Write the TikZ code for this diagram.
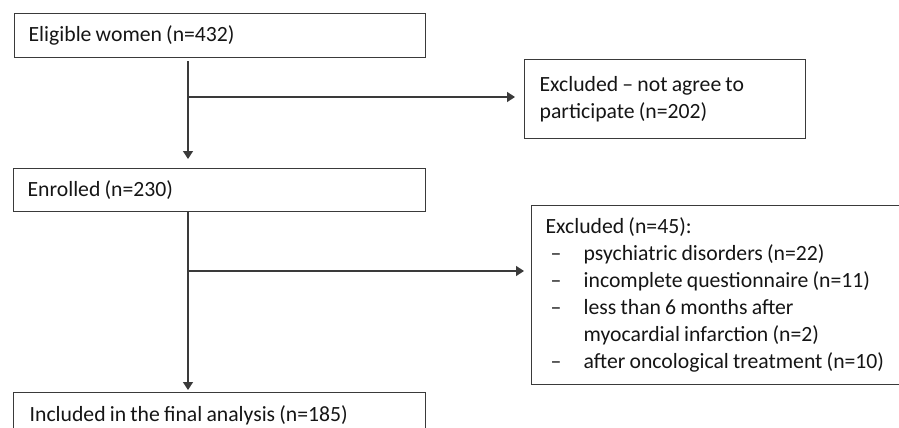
\documentclass[tikz,border=0pt]{standalone}
\usepackage{fontspec}
\setmainfont{Carlito}
\usetikzlibrary{arrows.meta}
\definecolor{linegray}{HTML}{3A3A3A}
\definecolor{txt}{HTML}{151515}
\begin{document}
\begin{tikzpicture}[x=1pt,y=-1pt,
  font=\fontsize{21.7}{27}\selectfont,
  boxstyle/.style={draw=linegray, line width=1.3pt, anchor=north west, align=left,
    inner ysep=0pt, text=txt, execute at begin node={\spaceskip=4.2pt\relax}},
  connector/.style={draw=linegray, line width=1.3pt},
  arrowline/.style={connector, -{Triangle[length=8pt,width=10pt]}}]
\useasboundingbox (0,0) rectangle (899,428);
\clip (0,0) rectangle (899,428);
\node[boxstyle, inner xsep=14pt, text width=411pt-28pt, minimum width=411pt, minimum height=44pt] (b1) at (14,13) {Eligible women (n=432)};
\node[boxstyle, inner xsep=14pt, text width=412pt-28pt, minimum width=412pt, minimum height=43pt] (b2) at (13,168) {Enrolled (n=230)};
\node[boxstyle, inner xsep=15pt, text width=281pt-30pt, minimum width=281pt, minimum height=79pt] (b3) at (524,59) {Excluded – not agree to\\participate (n=202)};
\node[boxstyle, inner xsep=14pt, text width=380pt-28pt, minimum width=380pt, minimum height=179pt] (b4) at (531,205) {Excluded (n=45):\\
\hspace*{5pt}\makebox[33pt][l]{–}psychiatric disorders (n=22)\\
\hspace*{5pt}\makebox[33pt][l]{–}incomplete questionnaire (n=11)\\
\hspace*{5pt}\makebox[33pt][l]{–}less than 6 months after\\
\hspace*{38pt}myocardial infarction (n=2)\\
\hspace*{5pt}\makebox[33pt][l]{–}after oncological treatment (n=10)};
\node[boxstyle, inner xsep=16pt, text width=412pt-32pt, minimum width=412pt, minimum height=46pt] (b5) at (13,392) {Included in the final analysis (n=185)};
\coordinate (j1) at (188,97);
\coordinate (j2) at (188,271);
\draw[arrowline, shorten <=3pt, shorten >=9pt] (b1.south -| j1) -- (b2.north -| j1);
\draw[arrowline, shorten >=9pt] (j1) -- (j1 -| b3.west);
\draw[arrowline, shorten >=2pt] (b2.south -| j2) -- (b5.north -| j2);
\draw[arrowline, shorten >=7pt] (j2) -- (j2 -| b4.west);
\end{tikzpicture}
\end{document}
